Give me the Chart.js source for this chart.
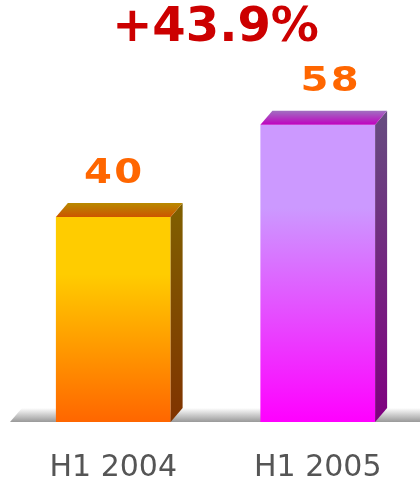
<!DOCTYPE html>
<html>
<head>
<meta charset="utf-8">
<script src="https://cdn.jsdelivr.net/npm/chart.js@4/dist/chart.umd.min.js"></script>
<style>
  html, body { margin: 0; padding: 0; background: #ffffff; }
  #wrap { width: 420px; height: 480px; }
</style>
</head>
<body>
<div id="wrap"><canvas id="c" width="420" height="480"></canvas></div>
<script>
// ---- data ----
const categories = ["H1 2004", "H1 2005"];
const values = [40, 58];
const valueLabels = ["40", "58"];
const titleText = "+43.9%";

// ---- styles ----
const frontTop = ["#ffcc00", "#cc99ff"];
const frontBottom = ["#ff6600", "#ff00ff"];
const sideTop = ["#806000", "#664d80"];
const sideBottom = ["#803300", "#800080"];
const topBack = ["#b88a00", "#a070c0"];
const topFront = ["#cc5500", "#c000c0"];
const labelShift = [0, 12];
const DX = 12, DY = 14;

function frontGradient(ctx, i) {
  const chart = ctx.chart;
  const ys = chart.scales && chart.scales.y;
  if (!chart.chartArea || !ys) return frontTop[i];
  const top = ys.getPixelForValue(values[i]);
  const base = ys.getPixelForValue(0);
  if (!isFinite(top) || !isFinite(base) || top === base) return frontTop[i];
  const g = chart.ctx.createLinearGradient(0, top, 0, base);
  g.addColorStop(0, frontTop[i]);
  g.addColorStop(0.28, frontTop[i]);
  g.addColorStop(1, frontBottom[i]);
  return g;
}

const floorPlugin = {
  id: "floor3d",
  beforeDatasetsDraw(chart) {
    const c = chart.ctx, a = chart.chartArea;
    const y0 = chart.scales.y.getPixelForValue(0);
    c.save();
    const g = c.createLinearGradient(0, y0 - DY, 0, y0);
    g.addColorStop(0, "#ffffff");
    g.addColorStop(1, "#999999");
    c.fillStyle = g;
    c.beginPath();
    c.moveTo(a.left - 1, y0);
    c.lineTo(a.left - 1 + DX, y0 - DY);
    c.lineTo(chart.width, y0 - DY);
    c.lineTo(chart.width, y0);
    c.closePath();
    c.fill();
    c.restore();
  },
  afterDatasetsDraw(chart) {
    const c = chart.ctx;
    const meta = chart.getDatasetMeta(0);
    meta.data.forEach((el, i) => {
      const p = el.getProps(["x", "y", "base", "width"], true);
      const l = p.x - p.width / 2, r = p.x + p.width / 2;
      c.save();
      // side face
      let g = c.createLinearGradient(0, p.y - DY, 0, p.base);
      g.addColorStop(0, sideTop[i]);
      g.addColorStop(1, sideBottom[i]);
      c.fillStyle = g;
      c.beginPath();
      c.moveTo(r, p.y);
      c.lineTo(r + DX, p.y - DY);
      c.lineTo(r + DX, p.base - DY);
      c.lineTo(r, p.base);
      c.closePath();
      c.fill();
      // top face
      g = c.createLinearGradient(0, p.y - DY, 0, p.y);
      g.addColorStop(0, topBack[i]);
      g.addColorStop(1, topFront[i]);
      c.fillStyle = g;
      c.beginPath();
      c.moveTo(l, p.y);
      c.lineTo(l + DX, p.y - DY);
      c.lineTo(r + DX, p.y - DY);
      c.lineTo(r, p.y);
      c.closePath();
      c.fill();
      // value label (slightly widened glyphs)
      c.translate(p.x + labelShift[i] + 1, p.y - DY - 20);
      c.scale(1.18, 1);
      c.fillStyle = "#ff6600";
      c.font = "bold 34px 'DejaVu Sans'";
      c.textAlign = "center";
      c.textBaseline = "alphabetic";
      try { c.letterSpacing = "2px"; } catch (e) {}
      c.fillText(valueLabels[i], 0, 0);
      c.restore();
    });
  }
};

new Chart(document.getElementById("c"), {
  type: "bar",
  data: {
    labels: categories,
    datasets: [{
      data: values,
      backgroundColor: (ctx) => frontGradient(ctx, ctx.dataIndex),
      borderWidth: 0,
      barPercentage: 0.561,
      categoryPercentage: 1.0
    }]
  },
  options: {
    responsive: false,
    animation: false,
    events: [],
    layout: { padding: { left: 11, right: 0, top: 0, bottom: 0 } },
    plugins: {
      legend: { display: false },
      tooltip: { enabled: false },
      title: {
        display: true,
        text: titleText,
        color: "#cc0000",
        font: { family: "'DejaVu Sans'", size: 48, weight: "bold", lineHeight: 1.0 },
        padding: { top: 5, bottom: 0 }
      }
    },
    scales: {
      x: {
        grid: { display: false },
        border: { display: false },
        ticks: {
          color: "#555555",
          font: { family: "'DejaVu Sans'", size: 30 },
          padding: 20
        },
        afterFit: (scale) => { scale.height = 58; }
      },
      y: {
        display: false,
        min: 0,
        max: 72
      }
    }
  },
  plugins: [floorPlugin]
});
</script>
</body>
</html>
